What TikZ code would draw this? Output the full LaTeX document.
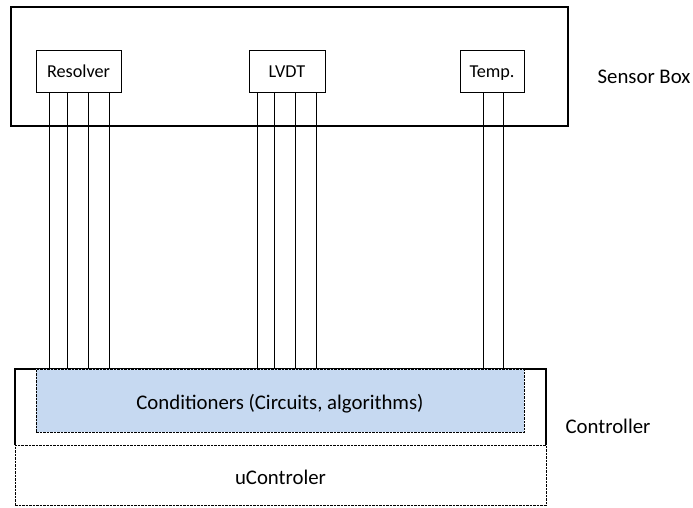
\documentclass[tikz,border=0pt]{standalone}
\usepackage{fontspec}
\setmainfont{Carlito}
\usetikzlibrary{shapes,positioning}

\begin{document}
\begin{tikzpicture}[x=1pt,y=-1pt]
			\tikzset{sensor/.style={draw,line width=0.8pt,inner sep=0pt,minimum height=42pt,text height=16pt,text depth=3pt,font=\fontsize{18.2}{20}\selectfont}}
			\tikzset{block/.style={draw,dash pattern=on 2.5pt off 1pt,line width=0.6pt,inner sep=0pt,text height=22pt,text depth=4pt,font=\fontsize{20.8}{24}\selectfont}}
			\tikzset{wire/.style={line width=0.8pt}}
			\tikzset{caption/.style={font=\fontsize{20.8}{24}\selectfont}}
			\useasboundingbox (0,0) rectangle (693,508);
			% sensor box with its three sensors
			\node[draw,line width=2.4pt,inner sep=0pt,minimum width=557pt,minimum height=119pt] (sensorbox) at (289.5,66.5) {};
			\node[sensor,minimum width=85pt] (resolver) at (78.5,71) {Resolver};
			\node[sensor,minimum width=76pt] (lvdt) at (287,71) {LVDT};
			\node[sensor,minimum width=64pt] (temp) at (492,71) {Temp.};
			\node[caption] (sensorlbl) at (644,77) {Sensor Box};
			% controller, open at the bottom
			\node[inner sep=0pt,minimum width=531pt,minimum height=76pt] (controller) at (280.5,407) {};
			\draw[line width=2pt] (controller.south west) -- (controller.north west) -- (controller.north east) -- (controller.south east);
			\node[block,fill={rgb,255:red,198;green,217;blue,241},minimum width=488pt,minimum height=63pt] (cond) at (280,400.5) {Conditioners (Circuits, algorithms)};
			\node[block,fill=white,minimum width=531pt,minimum height=60pt] (uctrl) at (280.5,475) {uControler};
			\node[caption] (ctrllbl) at (608,426) {Controller};
			% wires
			\draw[wire] ([xshift=-29.5pt]resolver.south) -- ([xshift=-29.5pt]resolver.south |- controller.north);
			\draw[wire] ([xshift=-11.5pt]resolver.south) -- ([xshift=-11.5pt]resolver.south |- controller.north);
			\draw[wire] ([xshift=9.5pt]resolver.south) -- ([xshift=9.5pt]resolver.south |- controller.north);
			\draw[wire] ([xshift=30.5pt]resolver.south) -- ([xshift=30.5pt]resolver.south |- controller.north);
			\draw[wire] ([xshift=-30pt]lvdt.south) -- ([xshift=-30pt]lvdt.south |- controller.north);
			\draw[wire] ([xshift=-13pt]lvdt.south) -- ([xshift=-13pt]lvdt.south |- controller.north);
			\draw[wire] ([xshift=8pt]lvdt.south) -- ([xshift=8pt]lvdt.south |- controller.north);
			\draw[wire] ([xshift=29pt]lvdt.south) -- ([xshift=29pt]lvdt.south |- controller.north);
			\draw[wire] ([xshift=-9pt]temp.south) -- ([xshift=-9pt]temp.south |- controller.north);
			\draw[wire] ([xshift=11pt]temp.south) -- ([xshift=11pt]temp.south |- controller.north);
		\end{tikzpicture}
\end{document}
